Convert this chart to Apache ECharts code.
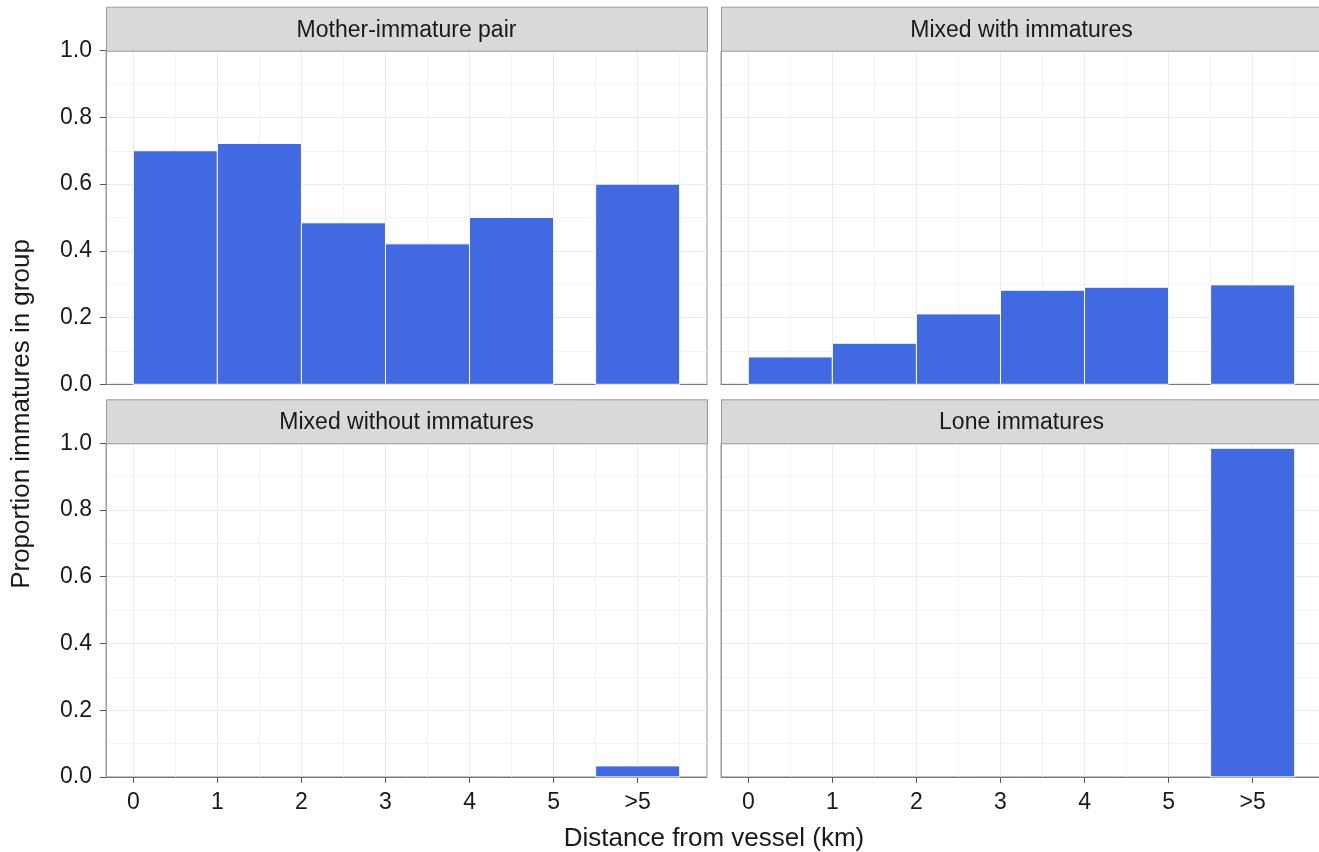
<!DOCTYPE html>
<html><head><meta charset="utf-8">
<script src="https://cdn.jsdelivr.net/npm/echarts@6/dist/echarts.min.js"></script>
<style>html,body{margin:0;padding:0;background:#fff;overflow:hidden;width:1319px;height:852px}#c{width:1326px;height:852px}</style>
</head><body><div id="c"></div>
<script>
const panelTitles = ['Mother-immature pair', 'Mixed with immatures', 'Mixed without immatures', 'Lone immatures'];
const binStarts = [0, 1, 2, 3, 4, 5.5];
const binEnds = [1, 2, 3, 4, 5, 6.5];
const xTickValues = [0, 1, 2, 3, 4, 5, 6];
const xTickLabels = ['0', '1', '2', '3', '4', '5', '>5'];
const xMinorValues = [0.5, 1.5, 2.5, 3.5, 4.5, 5.5, 6.5];
const motherImmaturePair = [0.700, 0.722, 0.484, 0.421, 0.500, 0.600];
const mixedWithImmatures = [0.082, 0.123, 0.211, 0.282, 0.291, 0.298];
const mixedWithoutImmatures = [0, 0, 0, 0, 0, 0.033];
const loneImmatures = [0, 0, 0, 0, 0, 0.985];
const panelValues = [motherImmaturePair, mixedWithImmatures, mixedWithoutImmatures, loneImmatures];

const FONT = 'Liberation Sans, Arial, sans-serif';
const PW = 601, PH = 333.6, STRIP = 44.5;
const panels = [
  {left: 106, top: 50.7},
  {left: 721, top: 50.7},
  {left: 106, top: 443.3},
  {left: 721, top: 443.3}
];

const grids = [], xAxes = [], yAxes = [], series = [], graphics = [];
panels.forEach((p, i) => {
  const rightCol = i % 2 === 1;
  grids.push({left: p.left, top: p.top, width: PW, height: PH, show: true,
    borderColor: '#9a9a9a', borderWidth: 1, backgroundColor: '#fff', containLabel: false});
  const bottomRow = i >= 2;
  const leftCol = !rightCol;
  xAxes.push({
    type: 'value', gridIndex: i, min: -0.325, max: 6.825, position: 'bottom',
    axisLine: {show: true, onZero: false, lineStyle: {color: '#7a7a7a', width: 1}},
    axisTick: {show: bottomRow, customValues: xTickValues, length: 6, lineStyle: {color: '#555'}},
    axisLabel: {show: bottomRow, customValues: xTickValues, margin: 14,
      fontFamily: FONT, fontSize: 23, color: '#1a1a1a',
      formatter: v => { const k = xTickValues.indexOf(v); return k >= 0 ? xTickLabels[k] : ''; }},
    splitLine: {show: false}
  });
  yAxes.push({
    type: 'value', gridIndex: i, min: 0, max: 1, interval: 0.2, position: 'left',
    axisLine: {show: true, onZero: false, lineStyle: {color: '#9a9a9a', width: 1}},
    axisTick: {show: leftCol, length: 6, lineStyle: {color: '#555'}},
    axisLabel: {show: leftCol, margin: 14, fontFamily: FONT, fontSize: 23, color: '#1a1a1a',
      formatter: v => v.toFixed(1)},
    splitLine: {show: true, lineStyle: {color: '#ebebeb', width: 1}},
    minorTick: {show: false, splitNumber: 2},
    minorSplitLine: {show: true, lineStyle: {color: '#f4f4f4', width: 1}}
  });
  // vertical grid lines through the x scale
  series.push({
    type: 'line', xAxisIndex: i, yAxisIndex: i, data: [], silent: true, z: 0,
    markLine: {silent: true, symbol: 'none', label: {show: false}, animation: false, z: 0,
      data: xMinorValues.map(v => ({xAxis: v, lineStyle: {color: '#f4f4f4', width: 1, type: 'solid'}}))
        .concat(xTickValues.map(v => ({xAxis: v, lineStyle: {color: '#ebebeb', width: 1, type: 'solid'}})))}
  });
  const vals = panelValues[i];
  series.push({
    type: 'custom', xAxisIndex: i, yAxisIndex: i, z: 5,
    data: vals.map((v, k) => [binStarts[k], binEnds[k], v]),
    encode: {x: [0, 1], y: 2},
    renderItem: (params, api) => {
      const v = api.value(2);
      if (!(v > 0)) return null;
      const a = api.coord([api.value(0), v]);
      const b = api.coord([api.value(1), 0]);
      return {type: 'rect', shape: {x: a[0], y: a[1], width: b[0] - a[0], height: b[1] - a[1]},
        style: {fill: '#4169E1', stroke: '#ffffff', lineWidth: 1}};
    },
    animation: false
  });
  // strip header
  graphics.push({type: 'rect', left: p.left, top: p.top - STRIP + 0.5,
    shape: {width: PW, height: STRIP - 0.5},
    style: {fill: '#d9d9d9', stroke: '#9a9a9a', lineWidth: 1}, z: 10});
  graphics.push({type: 'text', x: p.left + PW / 2, y: p.top - STRIP / 2 + 2,
    style: {text: panelTitles[i], font: '23px ' + FONT, fill: '#1a1a1a', align: 'center', verticalAlign: 'middle'}, z: 11});
});

graphics.push({type: 'text', x: 714, y: 839,
  style: {text: 'Distance from vessel (km)', font: '26px ' + FONT, fill: '#1a1a1a', align: 'center', verticalAlign: 'middle'}});
graphics.push({type: 'text', x: 22, y: 414, rotation: Math.PI / 2,
  style: {text: 'Proportion immatures in group', font: '26px ' + FONT, fill: '#1a1a1a', align: 'center', verticalAlign: 'middle'}});

const chart = echarts.init(document.getElementById('c'), null, {renderer: 'canvas'});
chart.setOption({
  animation: false,
  backgroundColor: '#ffffff',
  grid: grids, xAxis: xAxes, yAxis: yAxes, series: series, graphic: graphics
});
</script></body></html>
